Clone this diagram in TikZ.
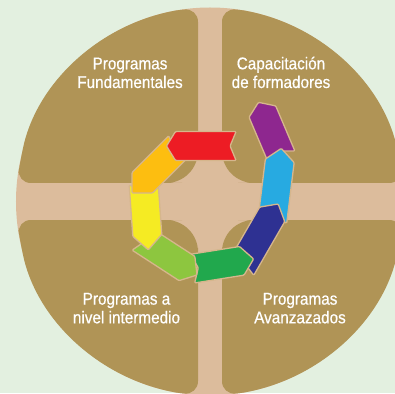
\documentclass[tikz,border=0pt]{standalone}
\usepackage{fontspec}
\setsansfont{Liberation Sans}
\newfontfamily\titulofont[FakeStretch=0.9, FakeBold=0.6]{Liberation Sans}
\usepackage{xcolor}
\usepackage{tikz}

\definecolor{fondo}{RGB}{227,240,224}
\definecolor{cruz}{RGB}{220,188,156}
\definecolor{oliva}{RGB}{176,148,86}
\definecolor{borde}{RGB}{214,182,140}
\definecolor{segpur}{RGB}{142,39,143}
\definecolor{segcel}{RGB}{39,170,225}
\definecolor{segazu}{RGB}{46,49,146}
\definecolor{segver}{RGB}{33,168,77}
\definecolor{seglim}{RGB}{141,198,63}
\definecolor{segama}{RGB}{245,235,35}
\definecolor{segnar}{RGB}{253,190,16}
\definecolor{segroj}{RGB}{237,28,36}

\begin{document}
\begin{tikzpicture}[
					x=1pt, y=1pt,
					font=\sffamily,
					% Estilo de los cuatro cuadrantes
					cuadrante/.style={fill=oliva},
					% Estilo de los textos blancos
					titulo/.style={
						text=white, align=center, inner sep=0pt, anchor=base,
						font=\titulofont\fontsize{17}{18.7}\selectfont
					},
					% Estilo de las flechas del anillo
					flecha/.style={
						draw=borde, line width=1.3pt,
						rounded corners=1pt, line join=round
					}
					]
					
					% ================= Fondo y circulo =================
					\useasboundingbox (-210,-191.5) rectangle (185,201.5);
					\fill[fondo] (-210,-191.5) rectangle (185,201.5);
					\clip (-210,-191.5) rectangle (185,201.5);
					\fill[cruz] (0,0) circle[radius=194];
					
					% ================= Cuadrantes (un cuarto, reflejado) =================
					\foreach \sx/\sy in {1/1,-1/1,-1/-1,1/-1}{
						\begin{scope}[xscale=\sx, yscale=\sy]
							\fill[cuadrante] (12,60) [rounded corners=32] -- (12,18.5) -- (60,18.5)
								[rounded corners=14] -- (193.12,18.5) -- (12:194)
								[sharp corners] arc[start angle=12, end angle=80, radius=194]
								[rounded corners=14] -- (12,193.63) -- (12,60) -- cycle;
						\end{scope}
					}
					
					% ================= Textos (base = ultima linea) =================
					\node[titulo] (fund) at (-80,113.5) {Programas\\Fundamentales};
					\node[titulo] (capac) at (71,113.5) {Capacitación\\de formadores};
					\node[titulo] (inter) at (-83.5,-121.8) {Programas a\\nivel intermedio};
					\node[titulo] (avanz) at (90,-121.8) {Programas\\Avanzazados};
					
					% ================= Anillo de flechas =================
					% color / centro x / centro y / angulo / media longitud / punta
					\foreach \c/\x/\y/\a/\l/\t in {
						segpur/60/72/113/29.5/10,
						segcel/66.8/16.6/83/36.8/12.5,
						segazu/49.7/-34.5/60/37/12,
						segver/13/-62.3/9/31/12,
						seglim/-41.5/-55/-33/34/12,
						segama/-64/-15.5/-86/33/14.5,
						segnar/-54.5/32/225/33.2/14.5,
						segroj/-8.7/55.5/180/34.8/9}{
						\begin{scope}[shift={(\x,\y)}, rotate=\a]
							\filldraw[flecha, fill=\c] (-\l,14.5) -- ({\l-\t},14.5) -- (\l,0)
								-- ({\l-\t},-14.5) -- (-\l,-14.5) -- ({-\l+6},0) -- cycle;
						\end{scope}
					}
					
				\end{tikzpicture}
\end{document}
